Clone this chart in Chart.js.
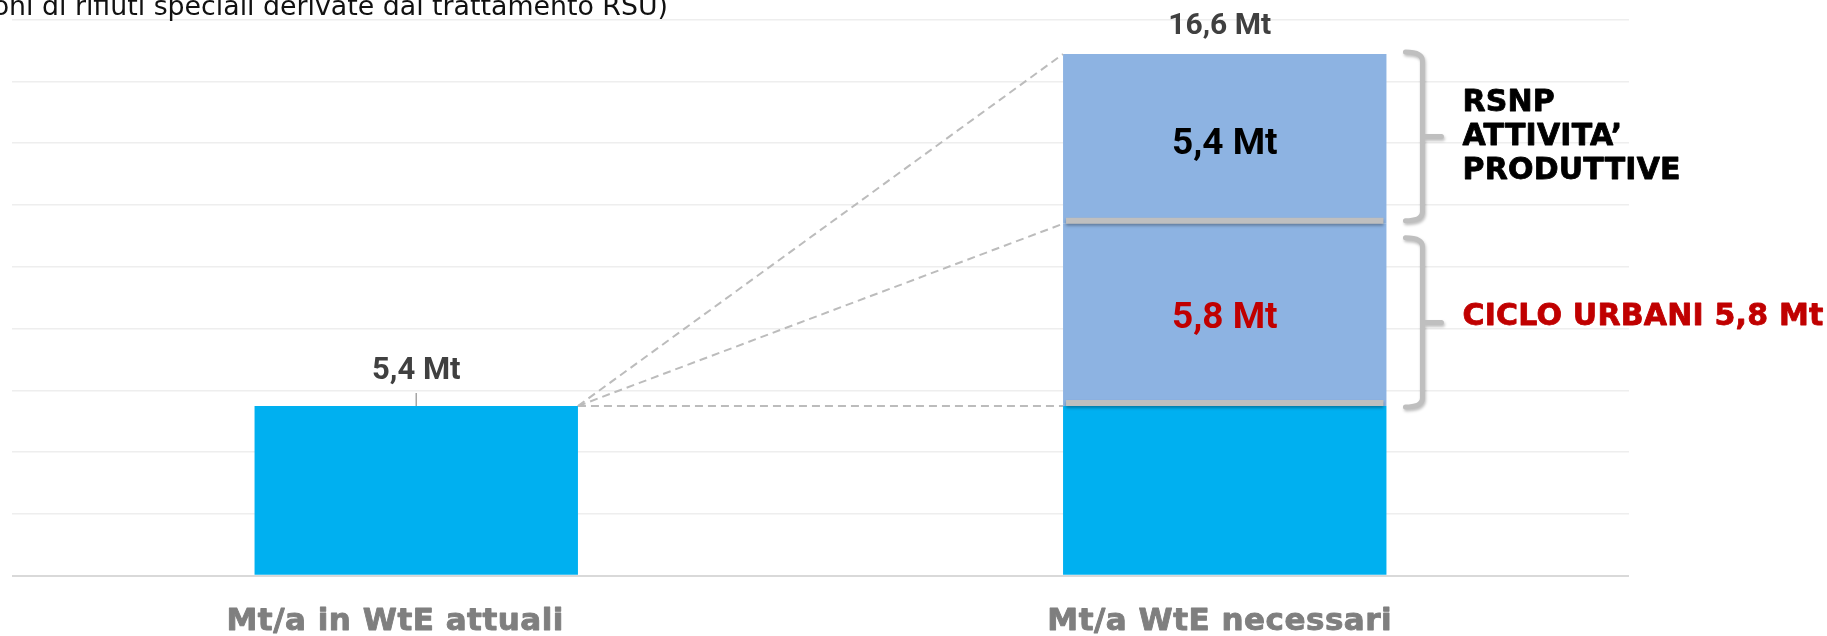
<!DOCTYPE html>
<html>
<head>
<meta charset="utf-8">
<script src="https://cdn.jsdelivr.net/npm/chart.js@4.4.1/dist/chart.umd.min.js"></script>
<style>
    html, body { margin: 0; padding: 0; background: #ffffff; }
</style>
</head>
<body>
<canvas id="wte-chart" width="1827" height="636"></canvas>
<script>
// Chart data (Mt/a)
const categories = ["Mt/a in WtE attuali", "Mt/a WtE necessari"];
const wteAttuali = [5.4, 5.4];
const cicloUrbani = [null, 5.8];
const rsnpAttivita = [null, 5.4];
const yMax = 17.7;
const gridCount = 10;

// texts
const titleText = "oni di rifiuti speciali derivate dal trattamento RSU)";
const rsnpLines = ["RSNP", "ATTIVITA’", "PRODUTTIVE"];
const urbaniText = "CICLO URBANI";

// colors
const cyan = "#00b0f0";
const lightBlue = "#8db3e2";
const gray = "#bfbfbf";

function fmt(v) {
    return v.toFixed(1).replace(".", ",") + " Mt";
}

// text with the cap centred on y
function capText(ctx, text, x, yMid, size, family, color, align, heavy) {
    ctx.font = `bold ${size}px ${family}`;
    ctx.fillStyle = color;
    ctx.textAlign = align || "center";
    ctx.textBaseline = "alphabetic";
    ctx.fillText(text, x, yMid + size * 0.36);
    if (heavy) {
        // thicken a little, the original face is heavier
        ctx.strokeStyle = color;
        ctx.lineWidth = heavy;
        ctx.lineJoin = "round";
        ctx.strokeText(text, x, yMid + size * 0.36);
    }
}

// right curly brace
function drawBrace(ctx, xL, top, bottom) {
    const xV = xL + 17;
    const mid = (top + bottom) / 2;
    ctx.beginPath();
    ctx.moveTo(xL, top);
    ctx.quadraticCurveTo(xV, top, xV, top + 9);
    ctx.lineTo(xV, bottom - 9);
    ctx.quadraticCurveTo(xV, bottom, xL, bottom);
    ctx.moveTo(xV, mid);
    ctx.lineTo(xV + 19, mid);
    ctx.stroke();
    return mid;
}

// overlay: dashed links, separators, labels, braces
const overlayPlugin = {
    id: "overlay",
    afterDatasetsDraw(chart) {
        const ctx = chart.ctx;
        const xs = chart.scales.x;
        const seg1 = chart.getDatasetMeta(0).data;
        const seg2 = chart.getDatasetMeta(1).data;
        const seg3 = chart.getDatasetMeta(2).data;
        const bar1 = seg1[0];
        const b2a = seg1[1], b2b = seg2[1], b2c = seg3[1];
        const bar1Right = bar1.x + bar1.width / 2;
        const bar2Left = b2c.x - b2c.width / 2;
        const bar2Right = b2c.x + b2c.width / 2;

        // dashed links
        ctx.save();
        ctx.strokeStyle = "#bcbcbc";
        ctx.lineWidth = 2;
        ctx.setLineDash([8, 5]);
        [b2a.y, b2b.y, b2c.y].forEach((ty) => {
            ctx.beginPath();
            ctx.moveTo(bar1Right, bar1.y);
            ctx.lineTo(bar2Left, ty);
            ctx.stroke();
        });
        ctx.restore();

        // separators between stacked segments
        ctx.save();
        ctx.fillStyle = gray;
        ctx.shadowColor = "rgba(0,0,0,0.3)";
        ctx.shadowOffsetY = 2;
        ctx.shadowBlur = 3;
        [b2b.base, b2c.base].forEach((by) => {
            ctx.fillRect(bar2Left + 3, by - 6, b2c.width - 6, 6);
        });
        ctx.restore();

        // leader + label above first bar
        ctx.save();
        ctx.strokeStyle = "#a6a6a6";
        ctx.lineWidth = 1.5;
        ctx.beginPath();
        ctx.moveTo(bar1.x, bar1.y);
        ctx.lineTo(bar1.x, bar1.y - 13);
        ctx.stroke();
        capText(ctx, fmt(wteAttuali[0]), bar1.x, bar1.y - 38, 31, "Roboto", "#404040");

        // total above second bar
        const total = wteAttuali[1] + cicloUrbani[1] + rsnpAttivita[1];
        capText(ctx, fmt(total), b2c.x - 5, b2c.y - 31, 30, "Roboto", "#404040");

        // labels inside segments
        capText(ctx, fmt(rsnpAttivita[1]), b2c.x, (b2c.y + b2c.base) / 2 + 2, 37, "Roboto", "#000000");
        capText(ctx, fmt(cicloUrbani[1]), b2b.x, (b2b.y + b2b.base) / 2, 37, "Roboto", "#c00000");

        // braces
        ctx.save();
        ctx.strokeStyle = gray;
        ctx.lineWidth = 5;
        ctx.lineCap = "round";
        ctx.shadowColor = "rgba(0,0,0,0.25)";
        ctx.shadowOffsetX = 1;
        ctx.shadowOffsetY = 2;
        ctx.shadowBlur = 3;
        const braceX = bar2Right + 19;
        const mid1 = drawBrace(ctx, braceX, b2c.y - 2, b2c.base - 3);
        const mid2 = drawBrace(ctx, braceX, b2b.y + 14, b2b.base + 1);
        ctx.restore();

        // brace texts
        const textX = braceX + 57;
        ctx.letterSpacing = "0.2px";
        rsnpLines.forEach((line, i) => {
            capText(ctx, line, textX, mid1 - 36 + i * 34, 30, "'DejaVu Sans'", "#000000", "left", 0.8);
        });
        capText(ctx, urbaniText + " " + fmt(cicloUrbani[1]), textX, mid2 - 8, 30, "'DejaVu Sans'", "#c00000", "left", 0.8);

        // category labels
        const shift = [-21, -5];
        ctx.letterSpacing = "0.5px";
        categories.forEach((c, i) => {
            capText(ctx, c, xs.getPixelForValue(i) + shift[i], 619, 31, "'DejaVu Sans'", "#7f7f7f", "center", 0.9);
        });
        ctx.letterSpacing = "0px";

        // clipped title line
        ctx.save();
        ctx.scale(1.03, 1);
        ctx.font = "26px 'DejaVu Sans'";
        ctx.fillStyle = "#111111";
        ctx.textAlign = "right";
        ctx.textBaseline = "alphabetic";
        ctx.fillText(titleText, 668 / 1.03, 15);
        ctx.restore();
        ctx.restore();
    },
};

const ctx = document.getElementById("wte-chart").getContext("2d");
const wteChart = new Chart(ctx, {
    type: "bar",
    data: {
        labels: categories,
        datasets: [
            { label: "WtE attuali", data: wteAttuali, backgroundColor: cyan },
            { label: "Ciclo urbani", data: cicloUrbani, backgroundColor: lightBlue },
            { label: "RSNP attività produttive", data: rsnpAttivita, backgroundColor: lightBlue },
        ],
    },
    options: {
        responsive: false,
        animation: false,
        datasets: {
            bar: { barPercentage: 1, categoryPercentage: 0.4 },
        },
        layout: {
            padding: { left: 12, right: 198, top: 19.5, bottom: 60.3 },
        },
        plugins: {
            legend: { display: false },
            tooltip: { enabled: false },
        },
        scales: {
            x: {
                stacked: true,
                display: false,
            },
            y: {
                stacked: true,
                min: 0,
                max: yMax,
                border: { display: false },
                ticks: { display: false, count: gridCount },
                grid: {
                    drawTicks: false,
                    color: (c) => (c.tick && c.tick.value === 0 ? "#d9d9d9" : "#eeeeee"),
                    lineWidth: (c) => (c.tick && c.tick.value === 0 ? 2 : 1.5),
                },
            },
        },
    },
    plugins: [overlayPlugin],
});
</script>
</body>
</html>
